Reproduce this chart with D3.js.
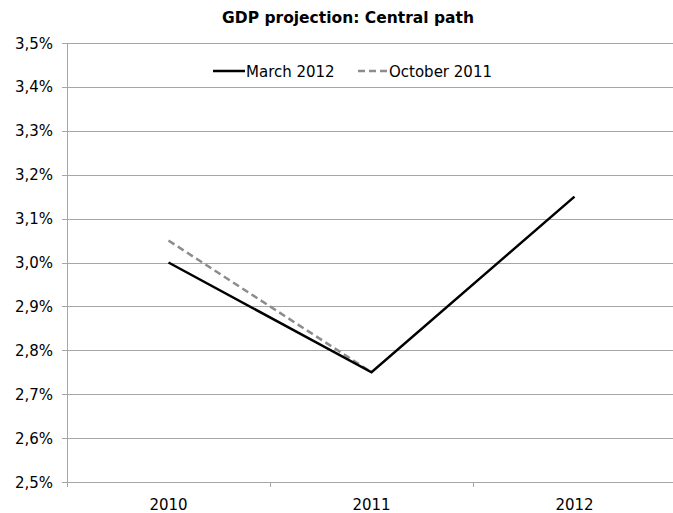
<!DOCTYPE html>
<html><head><meta charset="utf-8">
<script src="https://cdn.jsdelivr.net/npm/d3@7"></script>
<style>body{margin:0;background:#fff}svg{display:block}</style>
</head><body>
<svg id="c" width="673" height="513"></svg>
<script>
const categories = ["2010","2011","2012"];
const march2012 = [3.00, 2.75, 3.15];
const october2011 = [3.05, 2.75];
const yTicks = [2.5,2.6,2.7,2.8,2.9,3.0,3.1,3.2,3.3,3.4,3.5];
const title = "GDP projection: Central path";
const seriesNames = ["March 2012","October 2011"];

(function(){
const svg = d3.select("#c");
const font = "'DejaVu Sans', Verdana, sans-serif";
const fs = 15;
const pL = 67, pR = 676, pT = 43, pB = 482;
const x = d3.scaleBand().domain(categories).range([pL, pR]);
const y = d3.scaleLinear().domain([2.5, 3.5]).range([pB, pT]);

svg.append("g").selectAll("line").data(yTicks).join("line")
  .attr("x1", pL - 5).attr("x2", 673)
  .attr("y1", d => Math.round(y(d)) + 0.5).attr("y2", d => Math.round(y(d)) + 0.5)
  .attr("stroke", "#a6a6a6").attr("stroke-width", 1);
svg.append("g").selectAll("text").data(yTicks).join("text")
  .attr("x", 53).attr("y", d => y(d) + 5.5)
  .attr("text-anchor", "end").attr("font-family", font).attr("font-size", fs).attr("fill", "#000")
  .text(d => d.toFixed(1).replace(".", ",") + "%");
svg.append("line").attr("x1", pL + 0.5).attr("x2", pL + 0.5).attr("y1", pT).attr("y2", pB)
  .attr("stroke", "#a6a6a6");
const xt = categories.map(c => x(c)).concat([pR]);
svg.append("g").selectAll("line").data(xt).join("line")
  .attr("x1", d => Math.round(d) + 0.5).attr("x2", d => Math.round(d) + 0.5)
  .attr("y1", pB).attr("y2", pB + 5).attr("stroke", "#a6a6a6");
svg.append("g").selectAll("text").data(categories).join("text")
  .attr("x", d => x(d) + x.bandwidth() / 2).attr("y", 510)
  .attr("text-anchor", "middle").attr("font-family", font).attr("font-size", fs).attr("fill", "#000")
  .text(d => d);

const line = d3.line().x((d, i) => x(categories[i]) + x.bandwidth() / 2).y(d => y(d));
svg.append("path").datum(october2011).attr("d", line).attr("fill", "none")
  .attr("stroke", "#8c8c8c").attr("stroke-width", 2.5).attr("stroke-dasharray", "7,4");
svg.append("path").datum(march2012).attr("d", line).attr("fill", "none")
  .attr("stroke", "#000").attr("stroke-width", 2.5);

svg.append("text").attr("x", 348).attr("y", 23).attr("text-anchor", "middle")
  .attr("font-family", font).attr("font-size", 15.5).attr("font-weight", "bold").text(title);

const lg = svg.append("g").attr("font-family", font).attr("font-size", fs);
lg.append("line").attr("x1", 213).attr("x2", 245).attr("y1", 71).attr("y2", 71).attr("stroke", "#000").attr("stroke-width", 2.5);
lg.append("text").attr("x", 246).attr("y", 76.5).text(seriesNames[0]);
lg.append("line").attr("x1", 358).attr("x2", 388).attr("y1", 71).attr("y2", 71).attr("stroke", "#8c8c8c").attr("stroke-width", 2.5).attr("stroke-dasharray", "7,4");
lg.append("text").attr("x", 389).attr("y", 76.5).text(seriesNames[1]);
})();
</script>
</body></html>
